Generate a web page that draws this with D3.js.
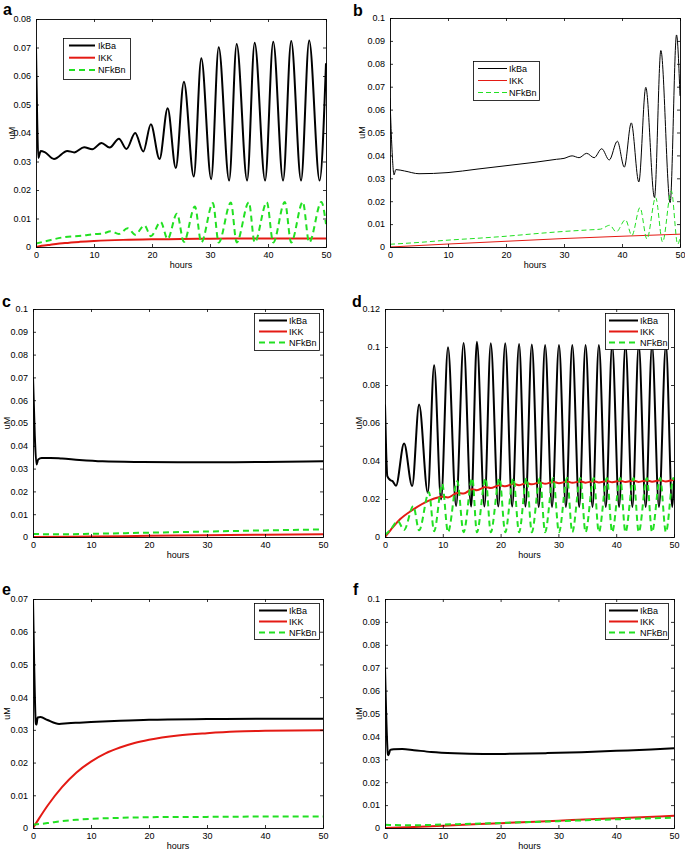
<!DOCTYPE html>
<html><head><meta charset="utf-8">
<script src="https://cdn.jsdelivr.net/npm/d3@7"></script>
<style>
html,body{margin:0;padding:0;background:#fff;}
svg{display:block;font-family:"Liberation Sans",Arial,Helvetica,sans-serif;}
</style></head>
<body>
<script>
// ---------- DATA ----------
const xTicks = [0, 10, 20, 30, 40, 50];
const seriesNames = ["IkBa", "IKK", "NFkBn"];

const yTicksA = [0, 0.01, 0.02, 0.03, 0.04, 0.05, 0.06, 0.07, 0.08];
const yTicksB = [0, 0.01, 0.02, 0.03, 0.04, 0.05, 0.06, 0.07, 0.08, 0.09, 0.1];
const yTicksC = [0, 0.01, 0.02, 0.03, 0.04, 0.05, 0.06, 0.07, 0.08, 0.09, 0.1];
const yTicksD = [0, 0.02, 0.04, 0.06, 0.08, 0.1, 0.12];
const yTicksE = [0, 0.01, 0.02, 0.03, 0.04, 0.05, 0.06, 0.07];
const yTicksF = [0, 0.01, 0.02, 0.03, 0.04, 0.05, 0.06, 0.07, 0.08, 0.09, 0.1];

// panel a
const aIkBa = [[0,0.070],[0.2,0.045],[0.4,0.0312],[0.6,0.0325],[0.8,0.0337],[1.5,0.0333],[3.1,0.0309],[5.4,0.0337],[6.6,0.0332],[8.3,0.035],[9.7,0.0343],[11.3,0.0365],[12.7,0.0349],[14.3,0.038],[15.6,0.0344],[17.1,0.040],[18.5,0.0335],[19.8,0.0431],[21.3,0.0309],[22.7,0.0487],[24.1,0.0277],[25.5,0.058],[27.2,0.0247],[28.5,0.0662],[30.2,0.0238],[31.5,0.0701],[33.3,0.0233],[34.6,0.0712],[36.4,0.0233],[37.7,0.0717],[39.5,0.0233],[40.9,0.072],[42.6,0.0233],[44.0,0.0723],[45.7,0.0233],[47.1,0.0725],[48.9,0.0233],[50,0.0645]];
const aIKK = [[0,0],[1,0.0004],[2.5,0.0008],[5,0.0014],[7.5,0.0018],[10,0.0021],[15,0.0025],[20,0.0027],[25,0.0028],[30,0.0029],[40,0.003],[50,0.003]];
const aNFkBn = [[0,0.0012],[2,0.0022],[5,0.0035],[8,0.004],[10,0.0045],[11.5,0.0047],[12.9,0.0055],[14.3,0.0046],[15.8,0.0066],[17.1,0.0043],[18.7,0.0076],[19.8,0.0038],[21.5,0.0088],[22.7,0.0028],[24.3,0.0117],[25.5,0.0018],[27.4,0.0142],[28.5,0.0016],[30.5,0.0154],[31.5,0.0016],[33.6,0.0156],[34.6,0.0016],[36.7,0.0157],[37.7,0.0016],[39.8,0.0157],[40.9,0.0016],[42.9,0.0158],[44.0,0.0016],[46.0,0.0158],[47.1,0.0016],[49.2,0.0158],[50,0.008]];

// panel b
const bIkBa = [[0,0.065],[0.3,0.045],[0.7,0.0315],[1.0,0.0338],[2.5,0.0332],[5,0.032],[10,0.0325],[15,0.034],[20,0.0355],[25,0.037],[28.7,0.0383],[30,0.0387],[31.4,0.0398],[32.6,0.039],[33.9,0.0409],[35.2,0.039],[36.5,0.0429],[37.8,0.038],[39.2,0.0462],[40.4,0.0349],[41.6,0.0542],[42.9,0.0284],[44.1,0.0697],[45.6,0.0216],[46.7,0.0858],[48.3,0.0194],[49.4,0.0926],[50,0.066]];
const bIKK = [[0,0],[10,0.0013],[20,0.0025],[30,0.0037],[40,0.0047],[50,0.0056]];
const bNFkBn = [[0,0.0012],[5,0.002],[10,0.003],[15,0.0038],[20,0.0047],[25,0.0058],[30,0.0068],[34.5,0.0075],[36.3,0.0078],[37.9,0.0095],[39.0,0.0066],[40.6,0.0119],[41.7,0.005],[43.1,0.0172],[44.3,0.0035],[45.8,0.0216],[47.0,0.0022],[48.5,0.0245],[49.6,0.0012],[50,0.004]];

// panel c
const cIkBa = [[0,0.07],[0.3,0.045],[0.6,0.0318],[0.9,0.034],[1.5,0.0346],[3,0.0347],[5,0.0344],[8,0.0338],[12,0.0332],[18,0.0329],[25,0.0328],[32,0.0328],[40,0.0329],[50,0.0332]];
const cIKK = [[0,0],[10,0.0002],[20,0.0005],[30,0.0008],[40,0.001],[50,0.0012]];
const cNFkBn = [[0,0.0013],[5,0.0012],[10,0.0014],[20,0.0019],[30,0.0024],[40,0.0029],[50,0.0033]];

// panel d
const dIkBa = [[0,0.0697],[0.2,0.045],[0.4,0.032],[0.9,0.030],[1.3,0.0294],[1.9,0.027],[3.3,0.0492],[4.7,0.0268],[5.9,0.0697],[7.4,0.0233],[8.5,0.0904],[9.7,0.0198],[10.9,0.0999],[12.3,0.0163],[13.6,0.1021],[14.9,0.016],[15.9,0.1027],[17.2,0.016],[18.3,0.102],[19.6,0.016],[20.8,0.102],[22.0,0.016],[23.2,0.1016],[24.3,0.016],[25.4,0.1013],[26.6,0.0158],[27.7,0.101],[28.9,0.0158],[30.1,0.101],[31.3,0.0158],[32.4,0.101],[33.6,0.0158],[34.7,0.101],[35.9,0.0158],[37.0,0.101],[38.2,0.0158],[39.3,0.101],[40.5,0.0158],[41.6,0.101],[42.8,0.0158],[43.9,0.101],[45.1,0.0158],[46.2,0.101],[47.4,0.0158],[48.6,0.101],[49.7,0.0158],[50,0.03]];
const dIKK = [[0,0],[1,0.0038],[2.6,0.0093],[4.9,0.0145],[7.5,0.019],[9.9,0.0212],[10.9,0.0208],[12.5,0.0232],[13.6,0.0229],[15.1,0.0251],[15.9,0.0246],[17.4,0.0263],[18.3,0.0258],[19.8,0.0273],[20.8,0.0267],[22.2,0.0280],[23.2,0.0273],[24.5,0.0284],[25.4,0.0277],[26.8,0.0287],[27.7,0.0280],[29.1,0.0290],[30.1,0.0283],[31.5,0.0292],[32.4,0.0285],[33.8,0.0293],[34.7,0.0286],[36.1,0.0294],[37.0,0.0287],[38.4,0.0295],[39.3,0.0288],[40.7,0.0296],[41.6,0.0289],[43.0,0.0297],[43.9,0.0290],[45.3,0.0298],[46.2,0.0291],[47.6,0.0299],[48.6,0.0292],[49.9,0.0300],[50,0.0300]];
const dNFkBn = [[0,0.001],[1.0,0.004],[2.2,0.0084],[3.3,0.0037],[4.9,0.0163],[5.9,0.0035],[7.6,0.0236],[8.5,0.003],[9.9,0.028],[10.9,0.0025],[12.5,0.0294],[13.6,0.0025],[15.1,0.031],[15.9,0.0025],[17.4,0.031],[18.3,0.0025],[19.8,0.031],[20.8,0.0025],[22.2,0.031],[23.2,0.0025],[24.5,0.031],[25.4,0.0025],[26.8,0.031],[27.7,0.0025],[29.1,0.031],[30.1,0.0025],[31.5,0.031],[32.4,0.0025],[33.8,0.031],[34.7,0.0025],[36.1,0.031],[37.0,0.0025],[38.4,0.031],[39.3,0.0025],[40.7,0.031],[41.6,0.0025],[43.0,0.031],[43.9,0.0025],[45.3,0.031],[46.2,0.0025],[47.6,0.031],[48.6,0.0025],[49.9,0.031],[50,0.03]];

// panel e
const eIkBa = [[0,0.07],[0.2,0.05],[0.5,0.0318],[0.6,0.0316],[0.8,0.0338],[1.3,0.0339],[2.5,0.033],[4.5,0.0318],[6,0.032],[8,0.0322],[10,0.0324],[15,0.0328],[20,0.0331],[30,0.0333],[40,0.0334],[50,0.0334]];
const eIKK = [[0,0],[1,0.0028],[2.5,0.0068],[5,0.0125],[7.5,0.017],[10,0.0203],[12.5,0.0228],[15,0.0246],[17.5,0.026],[20,0.027],[25,0.0283],[30,0.029],[35,0.0295],[40,0.0297],[50,0.0299]];
const eNFkBn = [[0,0.001],[2.5,0.0015],[5,0.0021],[7.5,0.0025],[10,0.0028],[15,0.0031],[20,0.0033],[30,0.0034],[40,0.0035],[50,0.0035]];

// panel f
const fIkBa = [[0,0.07],[0.2,0.05],[0.5,0.0322],[0.6,0.0318],[0.9,0.0341],[1.5,0.0344],[3,0.0345],[5,0.034],[8,0.0332],[12,0.0326],[17,0.0323],[22,0.0324],[28,0.0327],[34,0.0331],[40,0.0337],[46,0.0343],[50,0.0348]];
const fIKK = [[0,0],[5,0.0004],[10,0.001],[20,0.0021],[30,0.0032],[40,0.0043],[50,0.0053]];
const fNFkBn = [[0,0.0014],[5,0.0012],[10,0.0015],[20,0.0022],[30,0.003],[40,0.0038],[50,0.0045]];

// ---------- DRAW ----------
const W = 685, H = 851;
const svg = d3.select("body").append("svg").attr("width", W).attr("height", H);
const RED = "#e41a14", GREEN = "#22e022", BLACK = "#000";

const panels = [
  {id:"a", letter:[3,15], l:36, r:326, t:19, b:247, ymax:0.08, yt:yTicksA, data:[aIkBa,aIKK,aNFkBn], lw:2,
   leg:{x:63, y:38, w:67, h:41, row:12.2, l0:6, l1:32, tx:35}, ylab:12},
  {id:"b", letter:[353,16], l:390, r:680, t:18, b:247, ymax:0.1, yt:yTicksB, data:[bIkBa,bIKK,bNFkBn], lw:1,
   leg:{x:473, y:61, w:66, h:39, row:12, l0:5, l1:34, tx:36}, ylab:362},
  {id:"c", letter:[2,307], l:33, r:323, t:309, b:537, ymax:0.1, yt:yTicksC, data:[cIkBa,cIKK,cNFkBn], lw:2,
   leg:{x:254, y:313, w:65, h:37, row:11, l0:5, l1:33, tx:35}, ylab:7},
  {id:"d", letter:[352,307], l:385, r:674, t:309, b:537, ymax:0.12, yt:yTicksD, data:[dIkBa,dIKK,dNFkBn], lw:2,
   leg:{x:605, y:313, w:63, h:36, row:11, l0:4, l1:33, tx:35}, ylab:359},
  {id:"e", letter:[2,595], l:33, r:323, t:599, b:828, ymax:0.07, yt:yTicksE, data:[eIkBa,eIKK,eNFkBn], lw:2,
   leg:{x:254, y:603, w:65, h:36, row:11, l0:5, l1:33, tx:35}, ylab:7},
  {id:"f", letter:[353,595], l:385, r:674, t:599, b:828, ymax:0.1, yt:yTicksF, data:[fIkBa,fIKK,fNFkBn], lw:2,
   leg:{x:605, y:603, w:63, h:36, row:11, l0:4, l1:33, tx:35}, ylab:359}
];

const fmt = v => String(+v.toFixed(4));

panels.forEach(p => {
  const x = d3.scaleLinear().domain([0, 50]).range([p.l, p.r]);
  const y = d3.scaleLinear().domain([0, p.ymax]).range([p.b, p.t]);
  const g = svg.append("g");
  const colors = [BLACK, RED, GREEN];
  const dash = p.lw >= 2 ? "6,4" : "5,3";

  g.append("clipPath").attr("id", "clip" + p.id)
    .append("rect").attr("x", p.l).attr("y", p.t - 2).attr("width", p.r - p.l + 1).attr("height", p.b - p.t + 3);

  const line = d3.line().x(d => x(d[0])).y(d => y(d[1])).curve(d3.curveMonotoneX);
  const lg = g.append("g").attr("clip-path", "url(#clip" + p.id + ")");
  // draw order: IkBa, IKK, NFkBn
  p.data.forEach((s, i) => {
    lg.append("path").datum(s).attr("d", line)
      .attr("fill", "none").attr("stroke", colors[i]).attr("stroke-width", p.lw)
      .attr("stroke-linejoin", "round")
      .attr("stroke-dasharray", i === 2 ? dash : null);
  });

  // axes
  const axB = d3.axisBottom(x).tickValues(xTicks).tickSize(-3).tickPadding(5).tickFormat(d3.format("d"));
  const axT = d3.axisTop(x).tickValues(xTicks).tickSize(-3).tickFormat("");
  const axL = d3.axisLeft(y).tickValues(p.yt).tickSize(-3).tickPadding(5).tickFormat(fmt);
  const axR = d3.axisRight(y).tickValues(p.yt).tickSize(-3).tickFormat("");
  const styleAx = sel => {
    sel.select(".domain").remove();
    sel.selectAll("line").attr("stroke", "#000").attr("stroke-width", 0.8);
    sel.selectAll("text").attr("fill", "#000").style("font-size", "9px")
      .style("font-family", '"Liberation Sans",Arial,Helvetica,sans-serif');
  };
  g.append("g").attr("transform", `translate(0,${p.b})`).call(axB).call(styleAx);
  g.append("g").attr("transform", `translate(0,${p.t})`).call(axT).call(styleAx);
  g.append("g").attr("transform", `translate(${p.l},0)`).call(axL).call(styleAx);
  g.append("g").attr("transform", `translate(${p.r},0)`).call(axR).call(styleAx);

  g.append("rect").attr("x", p.l + 0.5).attr("y", p.t + 0.5)
    .attr("width", p.r - p.l).attr("height", p.b - p.t)
    .attr("fill", "none").attr("stroke", "#000").attr("stroke-width", 0.9);

  // axis labels
  g.append("text").attr("x", (p.l + p.r) / 2).attr("y", p.b + 21)
    .attr("text-anchor", "middle").style("font-size", "9px").text("hours");
  g.append("text").attr("transform", `translate(${p.ylab},${(p.t + p.b) / 2}) rotate(-90)`)
    .attr("text-anchor", "middle").attr("dy", "0.35em").style("font-size", "9px").text("uM");

  // legend
  const L = p.leg;
  const leg = g.append("g");
  leg.append("rect").attr("x", L.x + 0.5).attr("y", L.y + 0.5).attr("width", L.w).attr("height", L.h)
    .attr("fill", "#fff").attr("stroke", "#000").attr("stroke-width", 0.8);
  seriesNames.forEach((n, i) => {
    const yy = L.y + 7.5 + i * L.row;
    leg.append("line").attr("x1", L.x + L.l0).attr("x2", L.x + L.l1).attr("y1", yy).attr("y2", yy)
      .attr("stroke", colors[i]).attr("stroke-width", p.lw)
      .attr("stroke-dasharray", i === 2 ? dash : null);
    leg.append("text").attr("x", L.x + L.tx).attr("y", yy).attr("dy", "0.35em")
      .style("font-size", "9px").text(n);
  });

  // panel letter
  g.append("text").attr("x", p.letter[0]).attr("y", p.letter[1])
    .style("font-size", "16px").style("font-weight", "bold").text(p.id);
});
</script>
</body></html>
